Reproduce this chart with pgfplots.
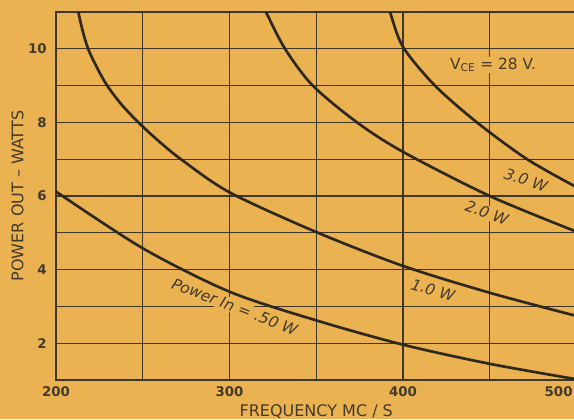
\documentclass[border=0pt]{standalone}
\usepackage{fontspec}
\setmainfont{DejaVu Sans}
\usepackage{pgfplots}
\pgfplotsset{compat=1.18}
\definecolor{bg}{RGB}{234,178,80}
\definecolor{ink}{RGB}{46,40,30}
\definecolor{gridc}{RGB}{62,54,40}
\definecolor{txt}{RGB}{66,58,44}

\pgfplotstableread{
x y
200 6.12
250 4.58
300 3.40
350 2.62
400 1.96
450 1.44
500 1.02
}\curveA
\pgfplotstableread{
x y
211.8 11.4
212.9 11
215.3 10.5
218.5 10
223.5 9.5
229.5 9
237.5 8.5
247.5 8
259 7.5
272 7
300 6.1
350 5.02
400 4.1
450 3.37
500 2.74
}\curveB
\pgfplotstableread{
x y
318 11.3
321 11
332 10
348 9
373.5 8
400 7.2
450 6.0
500 5.03
}\curveC
\pgfplotstableread{
x y
390.5 11.3
392.5 11
400 10.05
418.4 9
442.6 8
471.5 7
500 6.24
}\curveD

\begin{document}
\begin{tikzpicture}[x=1pt,y=1pt]
\fill[bg] (-42,-29.25) rectangle (388.5,285);
\begin{axis}[
  at={(0,0)}, anchor=south west,
  scale only axis, width=390.4pt, height=276pt,
  xmin=200, xmax=500, ymin=1, ymax=11,
  xtick={200,300,400,500}, minor xtick={250,350,450},
  xticklabels={200,300,400,\llap{500\hspace{3pt}}},
  ytick={2,4,6,8,10}, minor ytick={3,5,7,9},
  grid=both,
  major tick length=0pt, minor tick length=0pt,
  axis line style={gridc, line width=1.2pt},
  major x grid style={gridc, line width=1.4pt},
  minor x grid style={gridc, line width=1.0pt},
  major y grid style={gridc, line width=1.0pt},
  minor y grid style={gridc, line width=1.0pt},
  /pgf/number format/assume math mode=true,
  tick label style={font=\bfseries\fontsize{10}{12}\selectfont, text=txt, inner sep=0pt},
  xticklabel shift=5pt,
  yticklabel shift=6.75pt,
  xlabel={FREQUENCY MC / S},
  xlabel style={at={(axis description cs:0.5,0)}, anchor=north, yshift=-18pt, inner sep=0pt, font=\fontsize{12}{14}\selectfont, text=txt},
  ylabel={POWER OUT – WATTS},
  ylabel style={at={(axis description cs:-0.074,0.5)}, anchor=center, inner sep=0pt, font=\fontsize{12}{14}\selectfont, text=txt},
]
\node[fill=bg, inner sep=1pt, rotate=-21, text=txt, font=\itshape\fontsize{11.5}{13}\selectfont] at (axis cs:303,2.99) {Power In = .50 W};
\node[fill=bg, inner sep=1pt, rotate=-16, text=txt, font=\itshape\fontsize{11.5}{13}\selectfont] at (axis cs:417.3,3.45) {1.0 W};
\node[fill=bg, inner sep=1pt, rotate=-20, text=txt, font=\itshape\fontsize{11.5}{13}\selectfont] at (axis cs:448.4,5.54) {2.0 W};
\node[fill=bg, inner sep=1pt, rotate=-19, text=txt, font=\itshape\fontsize{11.5}{13}\selectfont] at (axis cs:470.9,6.43) {3.0 W};
\node[fill=bg, inner sep=1pt, text=txt, font=\fontsize{11.5}{13}\selectfont] at (axis cs:451.9,9.56) {V\textsubscript{CE} = 28 V.};
\addplot[ink, line width=2pt, smooth] table {\curveA};
\addplot[ink, line width=2pt, smooth] table {\curveB};
\addplot[ink, line width=2pt, smooth] table {\curveC};
\addplot[ink, line width=2pt, smooth] table {\curveD};
\end{axis}
\pgfresetboundingbox
\useasboundingbox (-42,-29.25) rectangle (388.5,285);
\end{tikzpicture}
\end{document}
